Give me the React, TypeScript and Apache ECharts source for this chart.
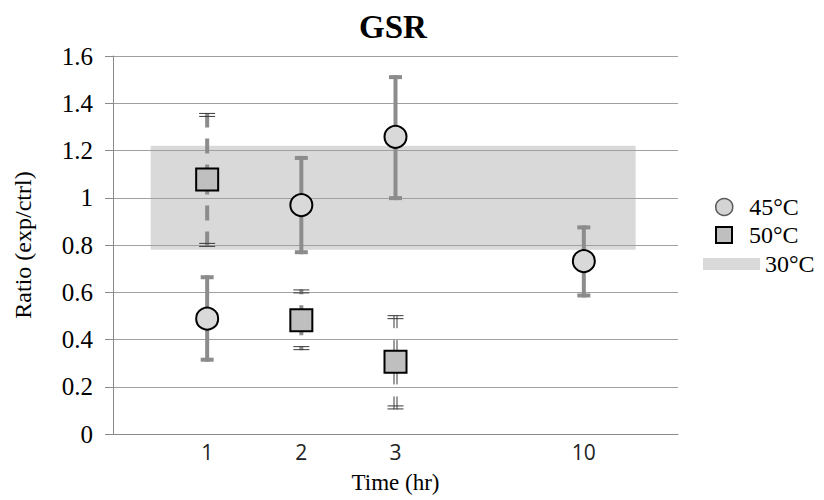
import React, { useEffect, useRef } from "react";
import * as echarts from "echarts";

// ---- data ----
const timeLabels = ["1", "2", "3", "10"];
const timeSlots = [1, 2, 3, 5]; // axis slot where each time label sits

const t45Times = ["1", "2", "3", "10"];
const t45Mean = [0.488, 0.969, 1.258, 0.732];
const t45Low = [0.306, 0.761, 0.99, 0.578];
const t45High = [0.672, 1.177, 1.519, 0.883];

const t50Times = ["1", "2", "3"];
const t50Mean = [1.077, 0.482, 0.306];
const t50Low = [0.792, 0.355, 0.104];
const t50High = [1.359, 0.612, 0.503];

const ctrlRange = [0.78, 1.22]; // 30°C reference band (low, high)
const ctrlSpan = [0.4, 5.55]; // band extent along the time axis

const yTicks = { min: 0, max: 1.6, interval: 0.2 };

// ---- styles (kept apart from data) ----
const serif = "Liberation Serif";
const barGray = "#8c8c8c";
const darkCap = "#3a3a3a";
const sq50Look = ["dashedGray", "dashedGray", "double"];

const slotOf = (label: string) => timeSlots[timeLabels.indexOf(label)];

export default function App() {
  const ref = useRef<HTMLDivElement>(null);

  useEffect(() => {
    if (!ref.current) return;
    const chart = echarts.init(ref.current, null, { renderer: "svg" });

    const bandData = [[ctrlSpan[0], ctrlSpan[1], ctrlRange[0], ctrlRange[1]]];
    const err45 = t45Times.map((t, i) => [slotOf(t), t45Low[i], t45High[i], t45Mean[i]]);
    const err50 = t50Times.map((t, i) => [slotOf(t), t50Low[i], t50High[i], t50Mean[i]]);

    const seg = (x1: number, y1: number, x2: number, y2: number, style: any) => ({
      type: "line",
      shape: { x1, y1, x2, y2 },
      style,
    });

    const option: any = {
      animation: false,
      title: {
        text: "GSR",
        left: 354,
        top: 5,
        textStyle: { fontFamily: serif, fontWeight: "bold", fontSize: 33, color: "#000" },
      },
      grid: { left: 113, right: 146, top: 56, bottom: 66, containLabel: false },
      xAxis: {
        type: "value",
        min: 0,
        max: 6,
        interval: 1,
        name: "Time (hr)",
        nameLocation: "middle",
        nameGap: 37,
        nameTextStyle: { fontFamily: serif, fontSize: 23, color: "#000" },
        axisLine: { show: true, lineStyle: { color: "#8a8a8a", width: 1 } },
        axisTick: { show: false },
        splitLine: { show: false },
        axisLabel: {
          margin: 7,
          fontFamily: "Open Sans",
          fontSize: 21,
          color: "#222",
          formatter: (v: number) => {
            const i = timeSlots.indexOf(v);
            return i >= 0 ? timeLabels[i] : "";
          },
        },
      },
      yAxis: {
        type: "value",
        min: yTicks.min,
        max: yTicks.max,
        interval: yTicks.interval,
        name: "Ratio (exp/ctrl)",
        nameLocation: "middle",
        nameGap: 78,
        nameTextStyle: { fontFamily: serif, fontSize: 24, color: "#000" },
        axisLine: { show: true, lineStyle: { color: "#8a8a8a", width: 1 } },
        axisTick: { show: true, length: 8, lineStyle: { color: "#8a8a8a" } },
        splitLine: { show: true, lineStyle: { color: "#a0a0a0", width: 1 } },
        axisLabel: { margin: 20, fontFamily: serif, fontSize: 25, color: "#000" },
      },
      legend: [
        {
          data: [
            {
              name: "45°C",
              icon: "circle",
              itemStyle: { color: "#d4d4d4", borderColor: "#5a5a5a", borderWidth: 1.5 },
            },
          ],
          left: 715,
          top: 195,
          padding: 0,
          itemWidth: 40,
          itemHeight: 17,
          selectedMode: false,
          textStyle: { fontFamily: serif, fontSize: 24, color: "#000", lineHeight: 24 },
        },
        {
          data: [
            {
              name: "50°C",
              icon: "path://M0,0H10V10H0Z",
              itemStyle: { color: "#bfbfbf", borderColor: "#000", borderWidth: 2 },
            },
          ],
          left: 715,
          top: 223,
          padding: 0,
          itemWidth: 40,
          itemHeight: 16,
          selectedMode: false,
          textStyle: { fontFamily: serif, fontSize: 24, color: "#000", lineHeight: 24 },
        },
        {
          data: [{ name: "30°C", icon: "rect", itemStyle: { color: "#d9d9d9", borderWidth: 0 } }],
          left: 703,
          top: 252,
          padding: 0,
          itemWidth: 57,
          itemHeight: 12,
          selectedMode: false,
          textStyle: { fontFamily: serif, fontSize: 24, color: "#000", lineHeight: 24 },
        },
      ],
      series: [
        {
          name: "30°C",
          type: "custom",
          z: -1,
          silent: true,
          itemStyle: { color: "#d9d9d9" },
          encode: { x: [0, 1], y: [2, 3] },
          data: bandData,
          renderItem: (params: any, api: any) => {
            const p1 = api.coord([api.value(0), api.value(3)]);
            const p2 = api.coord([api.value(1), api.value(2)]);
            return {
              type: "rect",
              shape: { x: p1[0], y: p1[1], width: p2[0] - p1[0], height: p2[1] - p1[1] },
              style: { fill: "#d9d9d9" },
            };
          },
        },
        {
          name: "err45",
          type: "custom",
          z: 2,
          silent: true,
          encode: { x: 0, y: [1, 2] },
          data: err45,
          renderItem: (params: any, api: any) => {
            const x = api.value(0);
            const lo = api.coord([x, api.value(1)]);
            const hi = api.coord([x, api.value(2)]);
            const st = { stroke: barGray, lineWidth: 4 };
            const cx = lo[0];
            return {
              type: "group",
              children: [
                seg(cx, lo[1], cx, hi[1], st),
                seg(cx - 6.5, hi[1] + 2, cx + 6.5, hi[1] + 2, st),
                seg(cx - 6.5, lo[1] - 2, cx + 6.5, lo[1] - 2, st),
              ],
            };
          },
        },
        {
          name: "err50",
          type: "custom",
          z: 2,
          silent: true,
          encode: { x: 0, y: [1, 2] },
          data: err50,
          renderItem: (params: any, api: any) => {
            const x = api.value(0);
            const lo = api.coord([x, api.value(1)]);
            const hi = api.coord([x, api.value(2)]);
            const mid = api.coord([x, api.value(3)]);
            const cx = lo[0];
            const look = sq50Look[params.dataIndex];
            const capSt = { stroke: darkCap, lineWidth: 1 };
            const children: any[] = [];
            if (look === "double") {
              const st = { stroke: darkCap, lineWidth: 1, lineDash: [13, 12] };
              [-1.5, 1.5].forEach((dx) => {
                children.push(seg(cx + dx, hi[1], cx + dx, mid[1], st));
                children.push(seg(cx + dx, lo[1], cx + dx, mid[1], st));
              });
            } else {
              const st = { stroke: barGray, lineWidth: 4, lineDash: [15, 11] };
              children.push(seg(cx, mid[1], cx, hi[1], st));
              children.push(seg(cx, mid[1], cx, lo[1], st));
            }
            children.push(seg(cx - 8, hi[1] + 0.5, cx + 8, hi[1] + 0.5, capSt));
            children.push(seg(cx - 8, hi[1] + 3.5, cx + 8, hi[1] + 3.5, capSt));
            children.push(seg(cx - 8, lo[1] - 0.5, cx + 8, lo[1] - 0.5, capSt));
            children.push(seg(cx - 8, lo[1] - 3.5, cx + 8, lo[1] - 3.5, capSt));
            return { type: "group", children };
          },
        },
        {
          name: "45°C",
          type: "scatter",
          z: 5,
          symbol: "circle",
          symbolSize: 22,
          itemStyle: { color: "#d9d9d9", borderColor: "#000", borderWidth: 2, opacity: 1 },
          emphasis: { disabled: true },
          data: t45Times.map((t, i) => [slotOf(t), t45Mean[i]]),
        },
        {
          name: "50°C",
          type: "scatter",
          z: 5,
          symbol: "rect",
          symbolSize: 22,
          itemStyle: { color: "#bfbfbf", borderColor: "#000", borderWidth: 2, opacity: 1 },
          emphasis: { disabled: true },
          data: t50Times.map((t, i) => [slotOf(t), t50Mean[i]]),
        },
      ],
    };

    chart.setOption(option);
    return () => chart.dispose();
  }, []);

  return (
    <div
      ref={ref}
      style={{ position: "fixed", left: 0, top: 0, width: 824, height: 500, background: "#fff" }}
    />
  );
}
